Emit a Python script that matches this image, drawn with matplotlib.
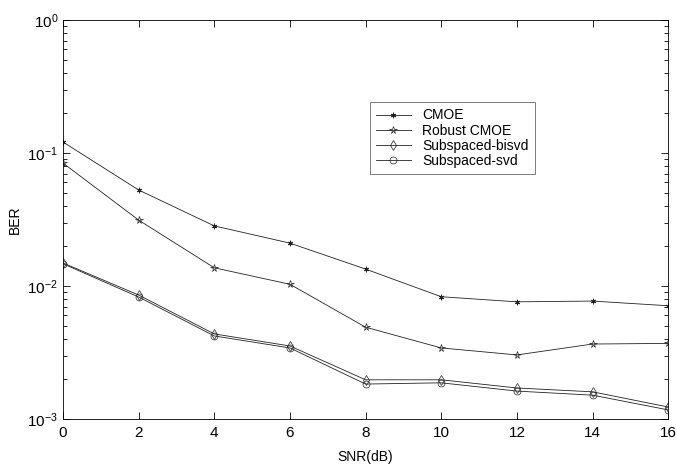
import matplotlib
matplotlib.use('Agg')
import matplotlib.pyplot as plt
from matplotlib.ticker import LogLocator, NullFormatter

plt.rcParams['font.family'] = ['Liberation Sans', 'DejaVu Sans']

# SNR values and BER curves
snr = [0, 2, 4, 6, 8, 10, 12, 14, 16]
ber_cmoe = [0.121, 0.0527, 0.0283, 0.021, 0.0134, 0.0083, 0.0076, 0.0077, 0.0071]
ber_robust = [0.084, 0.0313, 0.0137, 0.0103, 0.0049, 0.00342, 0.00303, 0.00366, 0.00370]
ber_bisvd = [0.0149, 0.00855, 0.00436, 0.00354, 0.00197, 0.00197, 0.00171, 0.0016, 0.00123]
ber_svd = [0.0147, 0.00826, 0.00421, 0.00342, 0.00183, 0.00187, 0.00162, 0.00151, 0.00117]
labels = ['CMOE', 'Robust CMOE', 'Subspaced-bisvd', 'Subspaced-svd']

fig = plt.figure(figsize=(6.77, 4.65), dpi=100)
ax = fig.add_axes([0.093, 0.099, 0.894, 0.858])

lw = 0.6
lc = '#222222'
ax.plot(snr, ber_cmoe, color=lc, lw=lw, marker=(6, 2, 0), ms=4, mew=0.6, label=labels[0])
ax.plot(snr, ber_robust, color=lc, lw=lw, marker='*', ms=5.5, mfc='none', mew=0.5, label=labels[1])
ax.plot(snr, ber_bisvd, color=lc, lw=lw, marker='d', ms=5, mfc='none', mew=0.5, label=labels[2])
ax.plot(snr, ber_svd, color=lc, lw=lw, marker='o', ms=5, mfc='none', mew=0.5, label=labels[3])

ax.set_yscale('log')
ax.set_xlim(0, 16)
ax.set_ylim(1e-3, 1e0)
ax.set_xticks(snr)
ax.yaxis.set_minor_locator(LogLocator(base=10, subs=range(2, 10)))
ax.yaxis.set_minor_formatter(NullFormatter())
ax.tick_params(which='both', direction='in', top=True, right=True, labelsize=11)
ax.tick_params(which='major', length=5, width=0.6)
ax.tick_params(which='minor', length=3, width=0.6)
ax.tick_params(axis='x', pad=5)
for s in ax.spines.values():
    s.set_linewidth(0.6)

ax.set_xlabel('SNR(dB)', fontsize=10, labelpad=7)
ax.set_ylabel('BER', fontsize=10, labelpad=4)

leg = ax.legend(loc='upper left', bbox_to_anchor=(0.507, 0.794), fontsize=10,
                frameon=True, fancybox=False, edgecolor='#444444', numpoints=1,
                borderaxespad=0, handlelength=2.5, handletextpad=0.8,
                borderpad=0.45, labelspacing=0.08)
leg.get_frame().set_linewidth(0.6)

fig.savefig('out.png', dpi=100)
